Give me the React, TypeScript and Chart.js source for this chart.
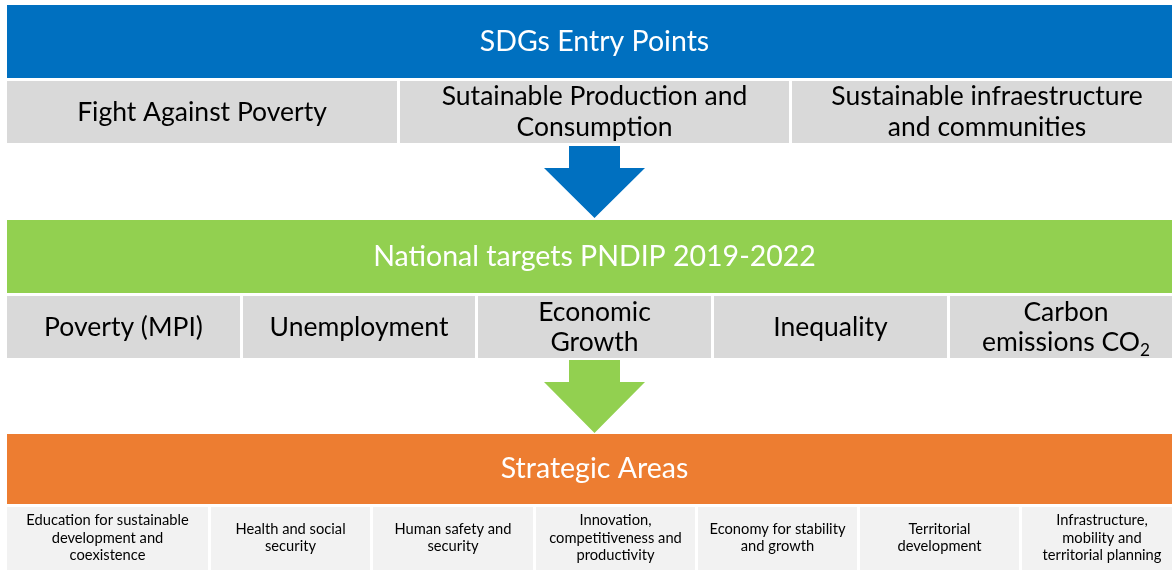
import React, { useEffect, useRef } from "react";
import { Chart, registerables } from "chart.js";

Chart.register(...registerables);

// ---- content ----
const headers = ["SDGs Entry Points", "National targets PNDIP 2019-2022", "Strategic Areas"];
const entryPoints = [
  "Fight Against Poverty",
  "Sutainable Production and\nConsumption",
  "Sustainable infraestructure\nand communities",
];
const nationalTargets = ["Poverty (MPI)", "Unemployment", "Economic\nGrowth", "Inequality", "Carbon\nemissions CO_2"];
const strategicAreas = [
  "Education for sustainable\ndevelopment and\ncoexistence",
  "Health and social\nsecurity",
  "Human safety and\nsecurity",
  "Innovation,\ncompetitiveness and\nproductivity",
  "Economy for stability\nand growth",
  "Territorial\ndevelopment",
  "Infrastructure,\nmobility and\nterritorial planning",
];

// ---- layout (diagram coordinates) ----
const headerBands = [
  [7, 1182, 5, 78],
  [7, 1182, 220, 293],
  [7, 1182, 434, 504],
];
const rowBands = [
  [81, 143],
  [296, 358],
  [507, 575],
];
const rowEdges = [
  [[7, 397], [400, 789], [792, 1182]],
  [[7, 240], [243, 475], [478, 711], [714, 947], [950, 1182]],
  [[7, 208], [211, 370], [373, 533], [536, 695], [698, 857], [860, 1019], [1022, 1182]],
];
const arrows = [
  { top: 146, neck: 168, tip: 218 },
  { top: 360, neck: 382, tip: 433 },
];
const arrowShaft = [569, 620];
const arrowHead = [544, 645];

const headerColors = ["#0070C0", "#92D050", "#ED7D31"];
const arrowColors = ["#0070C0", "#92D050"];
const rowColors = ["#D9D9D9", "#D9D9D9", "#F2F2F2"];
const headerFont = 28.5;
const rowFont = [26.5, 26.5, 14.7];
const rowLine = [31, 30, 17.5];
const FONT = "Lato, 'Open Sans', sans-serif";

const rowsText = [entryPoints, nationalTargets, strategicAreas];

const diagramPlugin = {
  id: "diagram",
  afterDraw(chart: any) {
    const ctx = chart.ctx as CanvasRenderingContext2D;
    const xs = chart.scales.x;
    const ys = chart.scales.y;
    const X = (v: number) => xs.getPixelForValue(v);
    const Y = (v: number) => ys.getPixelForValue(v);
    ctx.save();
    const rect = (x0: number, x1: number, y0: number, y1: number, c: string) => {
      ctx.fillStyle = c;
      ctx.fillRect(X(x0), Y(y0), X(x1) - X(x0), Y(y1) - Y(y0));
    };
    const drawLine = (txt: string, cx: number, cy: number, size: number, color: string) => {
      ctx.fillStyle = color;
      ctx.textBaseline = "middle";
      ctx.textAlign = "left";
      const parts = txt.split("_");
      ctx.font = `${size}px ${FONT}`;
      const w0 = ctx.measureText(parts[0]).width;
      let w1 = 0;
      const subSize = size * 0.65;
      if (parts[1]) {
        ctx.font = `${subSize}px ${FONT}`;
        w1 = ctx.measureText(parts[1]).width;
      }
      const start = cx - (w0 + w1) / 2;
      ctx.font = `${size}px ${FONT}`;
      ctx.fillText(parts[0], start, cy);
      if (parts[1]) {
        ctx.font = `${subSize}px ${FONT}`;
        ctx.fillText(parts[1], start + w0, cy + size * 0.32);
      }
    };
    const drawText = (txt: string, cx: number, cy: number, size: number, lh: number, color: string) => {
      const lines = txt.split("\n");
      lines.forEach((l, i) => {
        const y = cy + (i - (lines.length - 1) / 2) * lh;
        drawLine(l, cx, y, size, color);
      });
    };

    headerBands.forEach((b, i) => {
      rect(b[0], b[1], b[2], b[3], headerColors[i]);
      drawText(headers[i], (X(b[0]) + X(b[1])) / 2, (Y(b[2]) + Y(b[3])) / 2, headerFont, 30, "#FFFFFF");
    });
    rowEdges.forEach((edges, r) => {
      const [y0, y1] = rowBands[r];
      const cy = r === 2 ? Y(538) : (Y(y0) + Y(y1)) / 2;
      edges.forEach((e, c) => {
        rect(e[0], e[1], y0, y1, rowColors[r]);
        drawText(rowsText[r][c], (X(e[0]) + X(e[1])) / 2, cy, rowFont[r], rowLine[r], "#000000");
      });
    });
    arrows.forEach((a, i) => {
      ctx.fillStyle = arrowColors[i];
      ctx.beginPath();
      ctx.moveTo(X(arrowShaft[0]), Y(a.top));
      ctx.lineTo(X(arrowShaft[1]), Y(a.top));
      ctx.lineTo(X(arrowShaft[1]), Y(a.neck));
      ctx.lineTo(X(arrowHead[1]), Y(a.neck));
      ctx.lineTo(X((arrowHead[0] + arrowHead[1]) / 2), Y(a.tip));
      ctx.lineTo(X(arrowHead[0]), Y(a.neck));
      ctx.lineTo(X(arrowShaft[0]), Y(a.neck));
      ctx.closePath();
      ctx.fill();
    });
    ctx.restore();
  },
};

export default function App() {
  const ref = useRef<HTMLCanvasElement>(null);
  useEffect(() => {
    document.body.style.margin = "0";
    const chart = new Chart(ref.current!, {
      type: "scatter",
      data: { datasets: [{ data: [], pointRadius: 0 }] },
      options: {
        animation: false,
        responsive: true,
        maintainAspectRatio: false,
        layout: { padding: 0 },
        plugins: { legend: { display: false }, tooltip: { enabled: false } },
        scales: {
          x: { type: "linear", min: 0, max: 1172, display: false },
          y: { type: "linear", min: 0, max: 570, reverse: true, display: false },
        },
      },
      plugins: [diagramPlugin],
    });
    return () => chart.destroy();
  }, []);
  return (
    <div style={{ width: 1172, height: 570, position: "relative" }}>
      <canvas ref={ref} />
    </div>
  );
}
